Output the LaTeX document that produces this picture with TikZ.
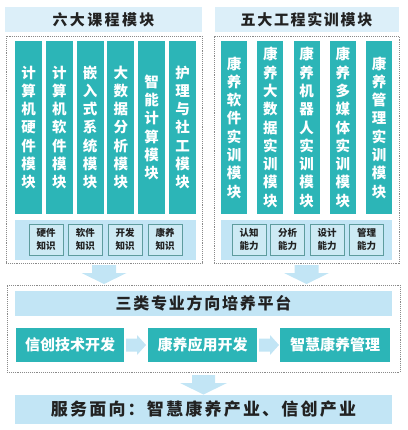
\documentclass[tikz,border=0pt]{standalone}
\usepackage{fontspec}
\setmainfont{Noto Sans CJK SC}
\newfontfamily\spcL[LetterSpace=16]{Noto Sans CJK SC}
\newfontfamily\spcA[LetterSpace=11]{Noto Sans CJK SC}
\newfontfamily\spcB[LetterSpace=11]{Noto Sans CJK SC}
\newfontfamily\spcC[LetterSpace=13]{Noto Sans CJK SC}
\definecolor{tealc}{HTML}{2CB5B7}
\definecolor{lblue}{HTML}{C2E5F5}
\definecolor{tblue}{HTML}{DCEFF9}
\definecolor{dotgray}{HTML}{8A8A8A}
\definecolor{txt}{HTML}{222222}
\definecolor{sbord}{HTML}{5E9C9E}
\definecolor{sfill}{HTML}{CDEAF4}
\begin{document}
\begin{tikzpicture}[x=1pt,y=-1pt,
  box/.style={anchor=north west, inner sep=0pt, outer sep=0pt},
  dotbox/.style={box, draw=dotgray, densely dotted, line width=0.9pt},
  titlebox/.style={box, fill=tblue, text=txt, font=\spcA\fontsize{15}{18}\selectfont\bfseries},
  colbox/.style={box, fill=tealc, text=white, align=center, minimum width=27pt, minimum height=173pt,
     font=\fontsize{14.5}{18.3}\selectfont\bfseries},
  rcolbox/.style={colbox, minimum width=26pt},
  strip/.style={box, fill=lblue, minimum height=40pt},
  smallbox/.style={box, fill=sfill, draw=sbord, line width=0.6pt, text=txt, align=center,
     minimum width=34pt, minimum height=31pt, font=\fontsize{9.5}{13}\selectfont\bfseries},
  midtitle/.style={box, fill=lblue, text=txt, font=\spcB\fontsize{16}{18}\selectfont\bfseries},
  dirbox/.style={box, fill=tealc, text=white, font=\fontsize{15}{18}\selectfont\bfseries, minimum height=34pt},
  bigarrow/.style={fill=lblue}
]
\useasboundingbox (0,0) rectangle (407,430);

% left group
\node[titlebox, minimum width=197pt, minimum height=25pt, font=\spcL\fontsize{15}{18}\selectfont\bfseries] (t1) at (5,7) {六大课程模块};
\node[dotbox, minimum width=196pt, minimum height=227pt] (g1) at (6,36) {};
\node[colbox] (c1) at (15,41) {计\\算\\机\\硬\\件\\模\\块};
\node[colbox] (c2) at (45.8,41) {计\\算\\机\\软\\件\\模\\块};
\node[colbox] (c3) at (76.6,41) {嵌\\入\\式\\系\\统\\模\\块};
\node[colbox] (c4) at (107.4,41) {大\\数\\据\\分\\析\\模\\块};
\node[colbox] (c5) at (138.2,41) {智\\能\\计\\算\\模\\块};
\node[colbox] (c6) at (169,41) {护\\理\\与\\社\\工\\模\\块};
\node[strip, minimum width=181pt] (s1) at (15,220) {};
\node[smallbox] (k1) at (29,224) {硬件\\知识};
\node[smallbox] (k2) at (68.3,224) {软件\\知识};
\node[smallbox] (k3) at (108,224) {开发\\知识};
\node[smallbox] (k4) at (148,224) {康养\\知识};

% right group
\node[titlebox, minimum width=184pt, minimum height=25pt] (t2) at (214.5,7) {五大工程实训模块};
\node[dotbox, minimum width=185pt, minimum height=227pt] (g2) at (214,36) {};
\node[rcolbox] (r1) at (221,41) {康\\养\\软\\件\\实\\训\\模\\块};
\node[rcolbox] (r2) at (257.25,41) {康\\养\\大\\数\\据\\实\\训\\模\\块};
\node[rcolbox] (r3) at (293.5,41) {康\\养\\机\\器\\人\\实\\训\\模\\块};
\node[rcolbox] (r4) at (329.75,41) {康\\养\\多\\媒\\体\\实\\训\\模\\块};
\node[rcolbox] (r5) at (366,41) {康\\养\\管\\理\\实\\训\\模\\块};
\node[strip, minimum width=171pt] (s2) at (221,220) {};
\node[smallbox] (a1) at (232,224) {认知\\能力};
\node[smallbox] (a2) at (270.5,224) {分析\\能力};
\node[smallbox] (a3) at (310,224) {设计\\能力};
\node[smallbox] (a4) at (349.5,224) {管理\\能力};

% arrows down to platform
\fill[bigarrow] (92,265) -- (116,265) -- (116,273) -- (126.5,273) -- (104,284) -- (81.5,273) -- (92,273) -- cycle;
\fill[bigarrow] (294.5,265) -- (318.5,265) -- (318.5,273) -- (329,273) -- (306.5,284) -- (284,273) -- (294.5,273) -- cycle;

% platform
\node[dotbox, minimum width=393pt, minimum height=87pt] (g3) at (7,285) {};
\node[midtitle, minimum width=377pt, minimum height=25pt] (pt) at (15,291) {三类专业方向培养平台};
\node[dirbox, minimum width=108pt] (d1) at (16,328) {信创技术开发};
\node[dirbox, minimum width=109pt] (d2) at (148,328) {康养应用开发};
\node[dirbox, minimum width=110pt] (d3) at (280,328) {智慧康养管理};
\fill[bigarrow] (126,338.5) -- (137,338.5) -- (137,335) -- (146,345) -- (137,355) -- (137,351.5) -- (126,351.5) -- cycle;
\fill[bigarrow] (259,338.5) -- (270,338.5) -- (270,335) -- (279,345) -- (270,355) -- (270,351.5) -- (259,351.5) -- cycle;

% arrow down to service
\fill[bigarrow] (192,375) -- (215,375) -- (215,383) -- (227,383) -- (203.5,394.5) -- (180,383) -- (192,383) -- cycle;

% service
\node[box, fill=lblue, text=txt, minimum width=377pt, minimum height=29pt,
  font=\spcC\fontsize{17}{20}\selectfont\bfseries] (sv) at (15,395) {服务面向：智慧康养产业、信创产业};
\end{tikzpicture}
\end{document}
